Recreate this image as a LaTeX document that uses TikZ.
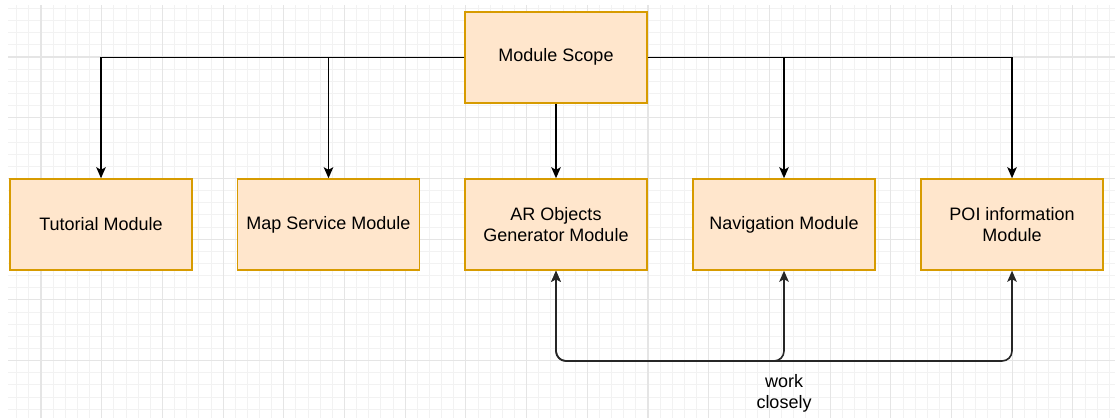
\documentclass[tikz,border=0pt]{standalone}
\usepackage{fontspec}
\setmainfont{Liberation Sans}
\usetikzlibrary{arrows.meta}
\definecolor{boxfill}{HTML}{FFE6CC}
\definecolor{boxline}{HTML}{D79B00}
\definecolor{gridmin}{HTML}{F2F2F2}
\definecolor{gridmaj}{HTML}{E5E5E5}
\tikzset{
  tip/.style={Stealth[length=11pt,width=9.5pt,inset=2.5pt]},
  modbox/.style={draw=boxline, fill=boxfill, line width=1.5pt,
    minimum width=182pt, minimum height=91pt, inner sep=0pt,
    align=center, font=\fontsize{18}{21}\selectfont},
  link/.style={line width=1.6pt, draw=black, -{Stealth[length=11pt,width=9.5pt,inset=2.5pt]}},
  twoway/.style={line width=1.6pt, draw=black!85, rounded corners=10pt,
    {Stealth[length=11pt,width=9.5pt,inset=2.5pt]}-{Stealth[length=11pt,width=9.5pt,inset=2.5pt]}},
  gridminor/.style={draw=gridmin, line width=0.9pt},
  gridmajor/.style={draw=gridmaj, line width=1.1pt},
}
\begin{document}
\begin{tikzpicture}[x=1pt,y=-1pt]
\useasboundingbox (0,0) rectangle (1115,418);
\fill[white] (0,0) rectangle (1115,418);

% background grid
\begin{scope}
  \clip (8,5) rectangle (1115,418);
  \foreach \i in {0,...,92} {\draw[gridminor] ({4.58+12.14*\i},5) -- ++(0,413);}
  \foreach \j in {0,...,34} {\draw[gridminor] (8,{8.5+12.14*\j}) -- ++(1107,0);}
  \foreach \i in {0,...,19} {\draw[gridmajor] ({-19.7+60.7*\i},5) -- ++(0,413);}
  \foreach \j in {0,...,7} {\draw[gridmajor] (8,{-3.7+60.7*\j}) -- ++(1107,0);}
\end{scope}

% modules
\node[modbox] (scope) at (556,57.3) {Module Scope};
\node[modbox] (tut) at (101,224.5) {Tutorial Module};
\node[modbox] (map) at (328.5,224.5) {Map Service Module};
\node[modbox] (ar)  at (556,224.5) {AR Objects\\Generator Module};
\node[modbox] (nav) at (784,224.5) {Navigation Module};
\node[modbox] (poi) at (1012,224.5) {POI information\\Module};

% scope to modules
\draw[link] (scope.west) -| (tut.north);
\draw[link] (scope.west) -| (map.north);
\draw[link] (scope.south) -- (ar.north);
\draw[link] (scope.east) -| (nav.north);
\draw[link] (scope.east) -| (poi.north);

% close cooperation between modules
\coordinate (bus) at (0,361);
\draw[twoway] (ar.south) -- (ar.south |- bus) -- (poi.south |- bus) -- (poi.south);
\draw[twoway] (ar.south) -- (ar.south |- bus) -- (nav.south |- bus) -- (nav.south);
\node[font=\fontsize{18}{21}\selectfont, align=center, inner sep=0pt] (lbl) at (784,393) {work\\closely};
\end{tikzpicture}
\end{document}
